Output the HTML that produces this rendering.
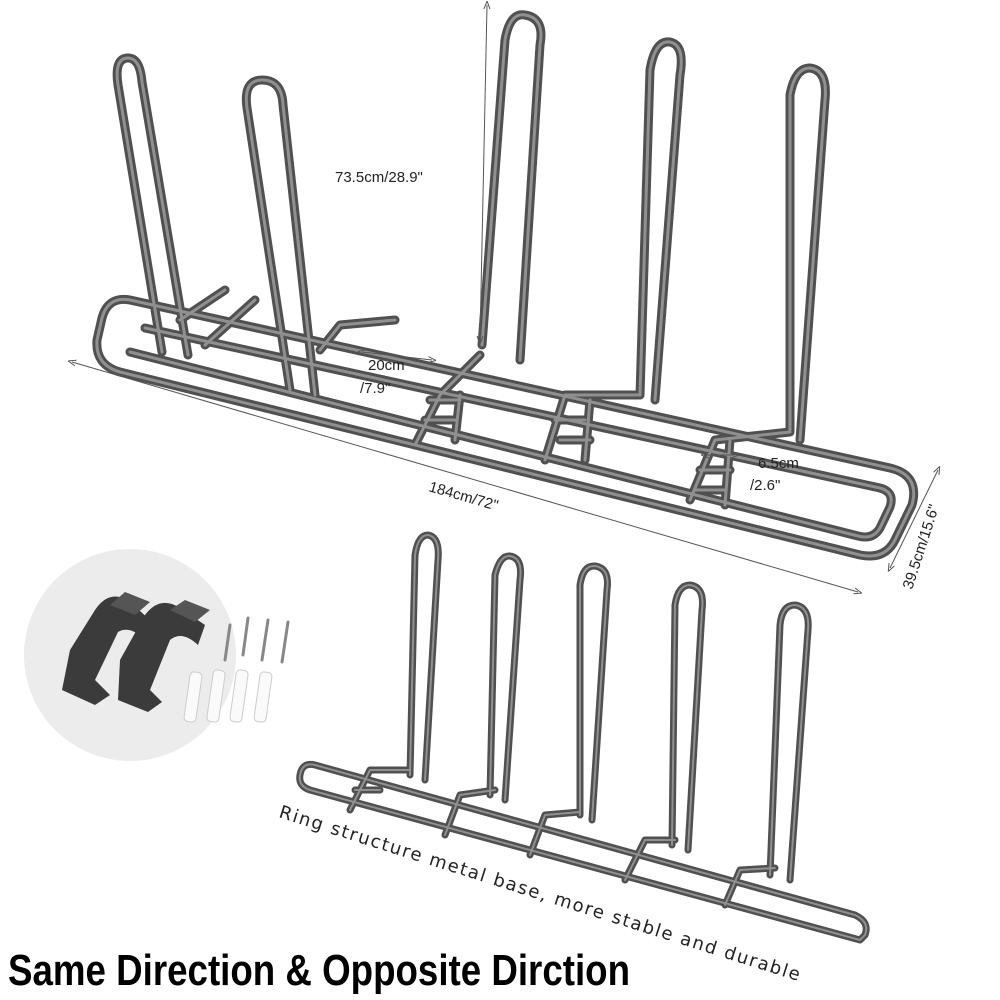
<!DOCTYPE html>
<html><head><meta charset="utf-8"><style>
html,body{margin:0;padding:0;background:#fff;width:1000px;height:1000px;overflow:hidden}
svg{display:block}
.t{fill:none;stroke:#505050;stroke-width:9;stroke-linecap:round;stroke-linejoin:round}
.h{fill:none;stroke:#909090;stroke-width:3;stroke-linecap:round;stroke-linejoin:round}
.d{stroke:#555;stroke-width:1;fill:none}
text{font-family:"Liberation Sans",sans-serif;fill:#222}
</style></head><body>
<svg width="1000" height="1000" viewBox="0 0 1000 1000" xmlns="http://www.w3.org/2000/svg">
<defs>
<marker id="a" markerWidth="8" markerHeight="8" refX="4" refY="4" orient="auto-start-reverse"><path d="M0,1 L8,4 L0,7" fill="none" stroke="#555" stroke-width="1"/></marker>
<g id="topRack">
 <path d="M130,300 L890,468 Q920,475 912,505 L895,540 Q885,560 860,555 L120,372 Q95,365 97,340 L102,318 Q108,296 130,300 Z"/>
 <path d="M145,328 L880,488 Q895,492 890,507 L880,528 Q873,540 858,536 L130,352"/>
 <path d="M162,352 L118,85 Q114,58 128,58 Q140,58 142,82 L188,355"/>
 <path d="M290,390 L247,108 Q243,80 262,80 Q282,80 283,105 L315,395"/>
 <path d="M482,345 L505,40 Q510,12 525,15 Q545,18 540,45 L520,360"/>
 <path d="M640,395 L650,70 Q655,40 670,42 Q685,45 680,75 L655,400"/>
 <path d="M790,430 L790,95 Q795,68 810,68 Q828,70 825,100 L800,440"/>
 <path d="M180,320 L225,290 M205,345 L255,300 M320,350 L340,325 L395,320"/>
 <path d="M415,445 L440,395 L480,355 M430,400 L460,400 M425,420 L455,420 M455,440 L460,395"/>
 <path d="M545,460 L565,395 L640,395 M560,440 L590,440 M555,420 L585,420 M585,460 L590,400"/>
 <path d="M690,500 L715,440 L790,432 M700,470 L730,470 M695,490 L725,490 M725,505 L730,440"/>
</g>
<g id="botRack">
 <path d="M315,765 L855,915 Q870,922 865,935 L860,940 L310,790 Q298,786 300,775 Q302,762 315,765 Z"/>
 <path d="M410,775 L415,555 Q418,535 428,535 Q440,537 438,560 L425,780"/>
 <path d="M490,795 L495,575 Q500,555 510,556 Q523,558 520,580 L505,800"/>
 <path d="M580,815 L580,585 Q583,565 595,566 Q610,568 607,590 L592,820"/>
 <path d="M672,845 L675,605 Q678,585 690,585 Q705,587 702,610 L688,850"/>
 <path d="M770,875 L780,625 Q782,605 795,605 Q810,607 808,630 L790,880"/>
 <path d="M350,810 L370,770 L410,770 M355,790 L380,790 M445,835 L460,795 L495,790 M530,855 L545,815 L580,812 M625,880 L645,840 L675,840 M725,905 L740,870 L775,868"/>
</g>
</defs>
<use href="#topRack" class="t"/>
<use href="#topRack" class="h"/>
<use href="#botRack" class="t" style="stroke-width:7"/>
<use href="#botRack" class="h" style="stroke-width:2"/>

<line class="d" x1="487" y1="5" x2="480" y2="340" marker-start="url(#a)" marker-end="url(#a)"/>
<text x="335" y="182" font-size="15">73.5cm/28.9"</text>
<line class="d" x1="362" y1="352" x2="432" y2="360" marker-start="url(#a)" marker-end="url(#a)"/>
<text x="368" y="370" font-size="15">20cm</text>
<text x="360" y="393" font-size="15">/7.9"</text>
<line class="d" x1="72" y1="362" x2="858" y2="592" marker-start="url(#a)" marker-end="url(#a)"/>
<text x="428" y="491" font-size="15" transform="rotate(16 428 491)">184cm/72"</text>
<line class="d" x1="735" y1="455" x2="705" y2="455" marker-start="url(#a)" marker-end="url(#a)"/>
<text x="758" y="468" font-size="15">6.5cm</text>
<text x="750" y="490" font-size="15">/2.6"</text>
<line class="d" x1="938" y1="470" x2="890" y2="568" marker-start="url(#a)" marker-end="url(#a)"/>
<text x="912" y="590" font-size="15" transform="rotate(-72 912 590)">39.5cm/15.6"</text>

<circle cx="130" cy="655" r="106" fill="#ececec"/>
<path d="M70,650 L95,610 Q110,588 130,602 L150,620 L145,640 Q130,625 118,632 L95,680 L110,695 L95,705 L62,690 Z" fill="#3b3b3b"/>
<path d="M120,660 L145,615 Q160,595 180,608 L205,625 L198,645 Q182,630 170,640 L150,690 L162,702 L148,712 L118,700 Z" fill="#3b3b3b"/>
<path d="M110,605 L125,592 L150,602 L135,615 Z M170,610 L185,600 L210,610 L195,622 Z" fill="#555"/>
<g stroke="#888" stroke-width="3" stroke-linecap="round">
<line x1="230" y1="625" x2="225" y2="660"/><line x1="248" y1="618" x2="243" y2="655"/>
<line x1="268" y1="620" x2="262" y2="660"/><line x1="288" y1="622" x2="282" y2="662"/>
</g>
<g fill="#fafafa" stroke="#ccc">
<rect x="187" y="672" width="12" height="50" rx="4" transform="rotate(8 193 697)"/>
<rect x="210" y="670" width="12" height="52" rx="4" transform="rotate(8 216 696)"/>
<rect x="233" y="670" width="12" height="52" rx="4" transform="rotate(8 239 696)"/>
<rect x="257" y="672" width="12" height="50" rx="4" transform="rotate(8 263 697)"/>
</g>

<text x="278" y="817" font-size="18" style="font-family:'DejaVu Sans',sans-serif" transform="rotate(17.5 278 817)" textLength="545">Ring structure metal base, more stable and durable</text>
<text x="8" y="985" font-size="44" font-weight="bold" style="fill:#000" textLength="622" lengthAdjust="spacingAndGlyphs">Same Direction &amp; Opposite Dirction</text>
</svg>
</body></html>
